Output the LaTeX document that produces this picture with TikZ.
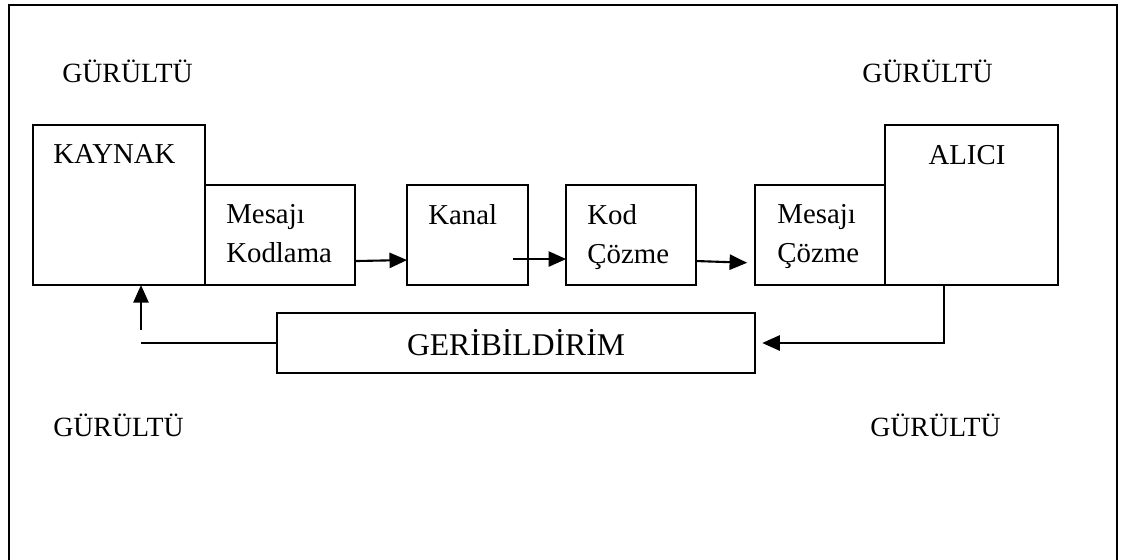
\documentclass[tikz,border=0pt]{standalone}
\usepackage{fontspec}
\setmainfont{Liberation Serif}
\usetikzlibrary{arrows.meta, positioning, calc}

\begin{document}
\begin{tikzpicture}[x=0.025cm, y=-0.025cm,
                    node distance=1.3cm,
                    block/.style={rectangle, draw, line width=1.5pt, inner sep=0pt, outer sep=0pt},
                    bigblock/.style={block, minimum width=4.3cm, minimum height=4cm},
                    smallblock/.style={block, minimum width=3.25cm, minimum height=2.5cm},
                    blocktext/.style={font=\fontsize{20.5}{27.6}\selectfont, inner sep=0pt, align=left, anchor=north west},
                    noise/.style={font=\fontsize{19.8}{24}\selectfont, inner sep=0pt, anchor=base west},
                    flow/.style={line width=1.5pt, -{Triangle[length=0.44cm, width=0.38cm]}}]

    \useasboundingbox (0,0) rectangle (1121,560);

    % Frame (open at the bottom)
    \draw[line width=2.1pt] (9,575) |- (1117,5) -- (1117,575);

    % Main Nodes
    \node[bigblock, anchor=north west] (kaynak) at (33,125) {};
    \node[smallblock, minimum width=3.75cm, anchor=south west] (kodla) at (kaynak.south east) {};
    \node[smallblock, minimum width=3.025cm, right=1.3cm of kodla] (kanal) {};
    \node[smallblock, right=0.95cm of kanal] (kodcoz) {};
    \node[smallblock, right=1.475cm of kodcoz] (mescoz) {};
    \node[bigblock, minimum width=4.325cm, anchor=south west] (alici) at (mescoz.south east) {};
    \node[block, minimum width=11.95cm, minimum height=1.5cm, font=\fontsize{22.5}{26}\selectfont] (geri) at (516,343) {GERİBİLDİRİM};

    % Texts in the blocks
    \node[blocktext] (kaynak-text) at ([xshift=0.5cm, yshift=-0.475cm]kaynak.north west) {KAYNAK};
    \node[blocktext] (kodla-text) at ([xshift=0.525cm, yshift=-0.475cm]kodla.north west) {Mesajı\\Kodlama};
    \node[blocktext] (kanal-text) at ([xshift=0.525cm, yshift=-0.475cm]kanal.north west) {Kanal};
    \node[blocktext] (kodcoz-text) at ([xshift=0.525cm, yshift=-0.475cm]kodcoz.north west) {Kod\\Çözme};
    \node[blocktext] (mescoz-text) at ([xshift=0.55cm, yshift=-0.475cm]mescoz.north west) {Mesajı\\Çözme};
    \node[blocktext] (alici-text) at ([xshift=1.075cm, yshift=-0.5cm]alici.north west) {ALICI};

    % Noise
    \node[noise] (noise-tl) at (62,82) {GÜRÜLTÜ};
    \node[noise] (noise-tr) at (862,82) {GÜRÜLTÜ};
    \node[noise] (noise-bl) at (53,436) {GÜRÜLTÜ};
    \node[noise] (noise-br) at (870,436) {GÜRÜLTÜ};

    % Connecting lines
    \draw[flow] ([yshift=0.6cm]kodla.south east) -- ([yshift=0.625cm]kanal.south west);
    \draw[flow] ([xshift=-0.375cm, yshift=0.65cm]kanal.south east) -- ([yshift=0.65cm]kodcoz.south west);
    \draw[flow, shorten >=0.2cm] ([yshift=0.6cm]kodcoz.south east) -- ([yshift=0.55cm]mescoz.south west);

    % Feedback
    \coordinate (back) at (141,343);
    \coordinate (up) at (141,330);
    \draw[flow, shorten >=0.18cm] ([xshift=-0.7cm]alici.south) |- (geri.east);
    \draw[line width=1.5pt] (geri.west) -- (back);
    \draw[flow] (up) -- (up |- kaynak.south);

\end{tikzpicture}
\end{document}
